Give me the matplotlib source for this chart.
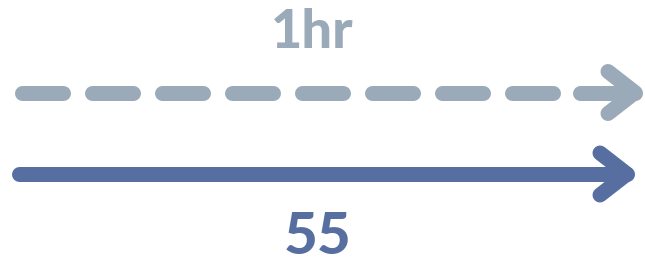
import matplotlib
matplotlib.use("Agg")
import matplotlib.pyplot as plt

plt.rcParams['lines.scale_dashes'] = False

# data
labels = ["1hr", "55"]
values = [60, 55]          # minutes represented by each arrow
colors = ["#9aaab8", "#566fa0"]
styles = ["dashed", "solid"]

W, H = 645, 263
fig = plt.figure(figsize=(W / 100, H / 100), dpi=100)
ax = fig.add_axes([0, 0, 1, 1])
ax.set_xlim(0, W)
ax.set_ylim(H, 0)
ax.axis("off")

px = 72 / 100  # points per pixel
lw = 15 * px

rows = [
    dict(y=92.5, x0=21.5, tip=635, head_dx=27, head_dy=21, text_y=32, text_x=312, fs=39),
    dict(y=174, x0=18.5, tip=627, head_dx=27, head_dy=21, text_y=237, text_x=318, fs=42),
]

for lab, v, c, s, r in zip(labels, values, colors, styles, rows):
    end = r["tip"]
    if s == "dashed":
        ax.plot([r["x0"], end - 6], [r["y"], r["y"]], color=c, lw=lw,
                dashes=(41 * px, 29 * px), dash_capstyle="round",
                solid_capstyle="round")
        ax.plot([end - 55, end], [r["y"], r["y"]], color=c, lw=lw,
                solid_capstyle="round")
    else:
        ax.plot([r["x0"], end], [r["y"], r["y"]], color=c, lw=lw,
                solid_capstyle="round")
    ax.plot([end - r["head_dx"], end, end - r["head_dx"]],
            [r["y"] - r["head_dy"], r["y"], r["y"] + r["head_dy"]],
            color=c, lw=lw, solid_capstyle="round", solid_joinstyle="round")
    ax.text(r["text_x"], r["text_y"], lab, color=c, fontsize=r["fs"],
            fontweight=900, family=["Lato", "DejaVu Sans"],
            ha="center", va="center")

fig.savefig("out.png", dpi=100)
